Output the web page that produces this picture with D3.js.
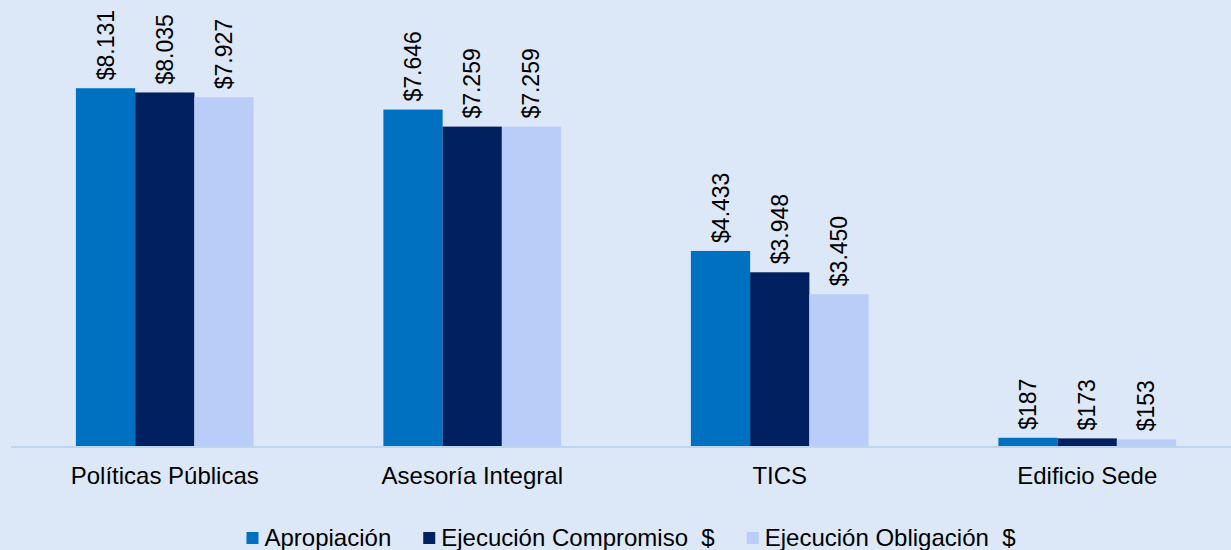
<!DOCTYPE html>
<html>
<head>
<meta charset="utf-8">
<script src="https://cdn.jsdelivr.net/npm/d3@7"></script>
<style>
  body { margin: 0; background: #dce8f8; }
  svg { display: block; font-family: "Liberation Sans", Arial, sans-serif; }
</style>
</head>
<body>
<div id="chart"></div>
<script>
var categories = ["Políticas Públicas", "Asesoría Integral", "TICS", "Edificio Sede"];
var seriesNames = ["Apropiación", "Ejecución Compromiso  $", "Ejecución Obligación  $"];
var apropiacion = [8131, 7646, 4433, 187];
var compromiso = [8035, 7259, 3948, 173];
var obligacion = [7927, 7259, 3450, 153];
var colors = ["#0070c0", "#002060", "#b9cdf8"];

var width = 1231,
    height = 550;

var series = [apropiacion, compromiso, obligacion];

var svg = d3.select("#chart").append("svg")
  .attr("width", width)
  .attr("height", height);

svg.append("rect")
  .attr("width", width)
  .attr("height", height)
  .attr("fill", "#dce8f8");

var x0 = d3.scaleBand()
  .domain(categories)
  .range([11, 1241])
  .padding(0);

var groupWidth = x0.bandwidth() * 0.578;

var x1 = d3.scaleBand()
  .domain(d3.range(series.length))
  .range([0, groupWidth]);

var y = d3.scaleLinear()
  .domain([0, 10000])
  .range([446, 6]);

var fmt = d => "$" + d3.format(",")(d).replace(/,/g, ".");

// bars
var groups = svg.selectAll(".group")
  .data(categories)
  .enter().append("g")
  .attr("class", "group")
  .attr("transform", d => "translate(" + (x0(d) + (x0.bandwidth() - groupWidth) / 2) + ",0)");

groups.selectAll("rect")
  .data((d, i) => series.map((s, j) => ({ s: j, v: s[i] })))
  .enter().append("rect")
  .attr("x", d => x1(d.s))
  .attr("y", d => y(d.v))
  .attr("width", x1.bandwidth())
  .attr("height", d => y(0) - y(d.v))
  .attr("fill", d => colors[d.s]);

groups.selectAll("text")
  .data((d, i) => series.map((s, j) => ({ s: j, v: s[i] })))
  .enter().append("text")
  .attr("transform", d => "translate(" + (x1(d.s) + x1.bandwidth() / 2 + 8) + "," + (y(d.v) - 8) + ") rotate(-90)")
  .attr("font-size", 23)
  .attr("fill", "#000")
  .text(d => fmt(d.v));

// axis line
svg.append("line")
  .attr("x1", 11)
  .attr("x2", 1241)
  .attr("y1", y(0) + 1)
  .attr("y2", y(0) + 1)
  .attr("stroke", "#bcd5f0")
  .attr("stroke-width", 2);

// category labels
svg.selectAll(".cat")
  .data(categories)
  .enter().append("text")
  .attr("class", "cat")
  .attr("x", d => x0(d) + x0.bandwidth() / 2)
  .attr("y", 484)
  .attr("text-anchor", "middle")
  .attr("font-size", 24)
  .attr("fill", "#000")
  .text(d => d);

// legend
var legend = svg.append("g");
var lx = 0;
seriesNames.forEach((name, i) => {
  var item = legend.append("g").attr("transform", "translate(" + lx + ",0)");
  item.append("rect")
    .attr("x", 0)
    .attr("y", 532)
    .attr("width", 12)
    .attr("height", 12)
    .attr("fill", colors[i]);
  var t = item.append("text")
    .attr("x", 18)
    .attr("y", 546)
    .attr("font-size", 24)
    .attr("fill", "#000")
    .style("white-space", "pre")
    .text(name);
  lx += 18 + t.node().getComputedTextLength() + 32;
});
var legendWidth = lx - 32;
legend.attr("transform", "translate(" + (631 - legendWidth / 2) + ",0)");
</script>
</body>
</html>
